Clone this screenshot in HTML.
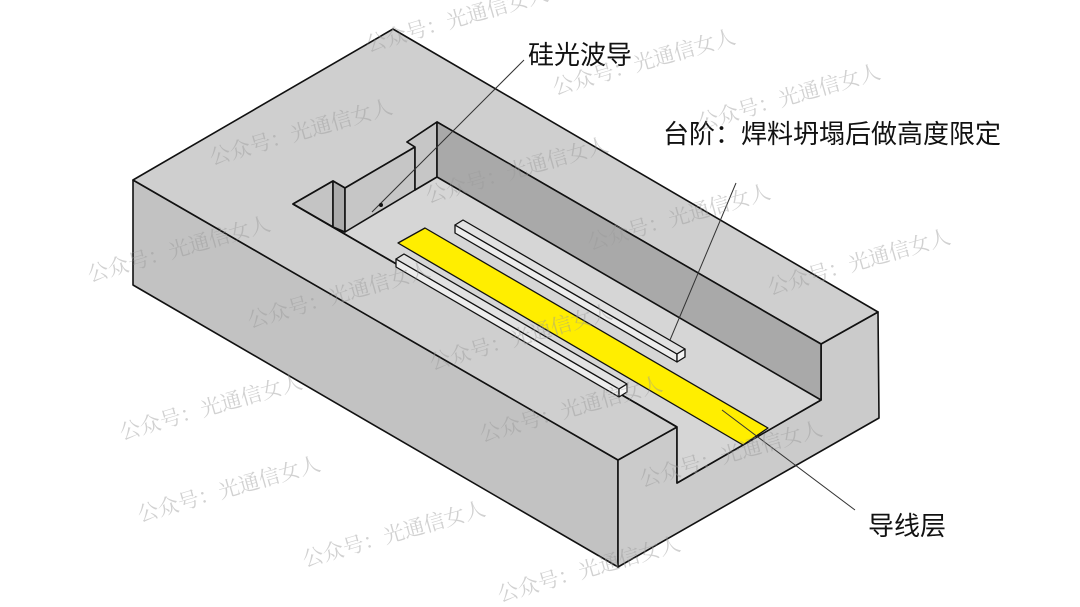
<!DOCTYPE html>
<html><head><meta charset="utf-8"><style>
html,body{margin:0;padding:0;background:#fff;}
svg{display:block;}
.wm{font-family:"Liberation Serif","Noto Serif CJK SC",serif;font-size:21px;fill:#9a9a9a;fill-opacity:0.45;}
.lb{font-family:"Liberation Sans","Noto Sans CJK SC",sans-serif;font-size:26px;fill:#111;}
</style></head><body>
<svg width="1080" height="607" viewBox="0 0 1080 607" xmlns="http://www.w3.org/2000/svg">
<g stroke="#111" stroke-width="1.6" stroke-linejoin="round">
<polygon points="133,180 618,460 618,567 133,285" fill="#c2c2c2"/>
<polygon points="618,460 677,427 677,483 821,400 821,344 878,312 879,418 618,567" fill="#cbcbcb"/>
<polygon points="133,180 393,29 878,312 821,344 677,427 618,460" fill="#cfcfcf"/>
<polygon points="293,204 333,181 345,188 415,147 407,142 437,122 821,344 821,400 677,483 677,427" fill="#d6d6d6"/>
<polygon points="293,204 333,181 333,227" fill="#c4c4c4"/>
<polygon points="333,181 345,188 345,232 333,227" fill="#ababab"/>
<polygon points="345,188 415,147 415,190 345,232" fill="#c6c6c6"/>
<polygon points="407,142 437,122 437,177 415,190 415,147" fill="#c6c6c6"/>
<polygon points="437,122 821,344 821,400 437,177" fill="#a9a9a9"/>
<line x1="293" y1="204" x2="677" y2="427"/>
<polygon points="398,243 425,228 768,428 743,445" fill="#ffee00" stroke-width="1.3"/>
<polygon points="455,225 455,233 677,362 677,354" fill="#ededed" stroke-width="1.3"/>
<polygon points="455,225 463,220 685,349 677,354" fill="#e2e2e2" stroke-width="1.3"/>
<polygon points="677,354 685,349 685,357 677,362" fill="#f4f4f4" stroke-width="1.3"/>
<polygon points="396,259 396,267 619,397 619,389" fill="#ededed" stroke-width="1.3"/>
<polygon points="396,259 404,254 627,384 619,389" fill="#e2e2e2" stroke-width="1.3"/>
<polygon points="619,389 627,384 627,392 619,397" fill="#f4f4f4" stroke-width="1.3"/>
</g>
<g stroke="#333" stroke-width="1" fill="none">
<line x1="372" y1="212" x2="524" y2="60"/>
<line x1="670" y1="340" x2="736" y2="183"/>
<line x1="722" y1="410" x2="855" y2="510"/>
</g>
<circle cx="381" cy="205" r="2" fill="#111"/>
<text class="lb" x="528" y="64">硅光波导</text>
<text class="lb" x="663" y="143">台阶：焊料坍塌后做高度限定</text>
<text class="lb" x="868" y="535">导线层</text>
<g class="wm">
<text transform="translate(368,52) rotate(-16)">公众号：光通信女人</text>
<text transform="translate(555,95) rotate(-16)">公众号：光通信女人</text>
<text transform="translate(700,130) rotate(-16)">公众号：光通信女人</text>
<text transform="translate(212,165) rotate(-16)">公众号：光通信女人</text>
<text transform="translate(428,203) rotate(-16)">公众号：光通信女人</text>
<text transform="translate(590,250) rotate(-16)">公众号：光通信女人</text>
<text transform="translate(90,282) rotate(-16)">公众号：光通信女人</text>
<text transform="translate(770,295) rotate(-16)">公众号：光通信女人</text>
<text transform="translate(250,328) rotate(-16)">公众号：光通信女人</text>
<text transform="translate(432,370) rotate(-16)">公众号：光通信女人</text>
<text transform="translate(122,440) rotate(-16)">公众号：光通信女人</text>
<text transform="translate(482,442) rotate(-16)">公众号：光通信女人</text>
<text transform="translate(642,487) rotate(-16)">公众号：光通信女人</text>
<text transform="translate(140,522) rotate(-16)">公众号：光通信女人</text>
<text transform="translate(305,567) rotate(-16)">公众号：光通信女人</text>
<text transform="translate(500,602) rotate(-16)">公众号：光通信女人</text>
</g>
</svg>
</body></html>
